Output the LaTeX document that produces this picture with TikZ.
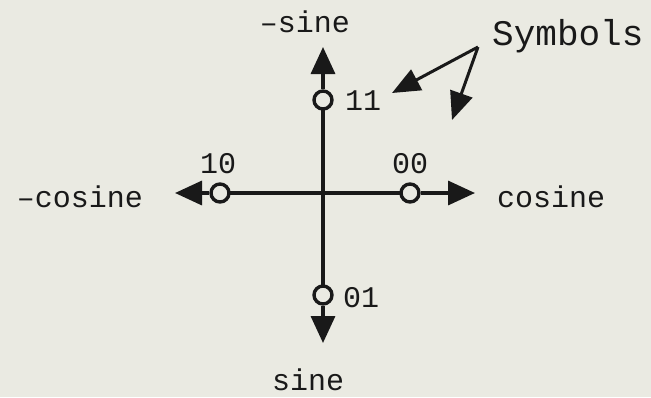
\documentclass[tikz,border=0pt]{standalone}
\usepackage{fontspec}
\setmonofont{Liberation Mono}
\usetikzlibrary{arrows.meta,positioning}
\definecolor{paper}{RGB}{234,234,226}
\definecolor{ink}{RGB}{25,25,25}

\begin{document}
\begin{tikzpicture}[
x=1pt, y=-1pt,
lbl/.style={font=\ttfamily\fontsize{30}{36}\selectfont, text=ink, inner sep=0pt},
sym/.style={circle, draw=ink, line width=3.4pt, fill=paper, minimum size=18pt, inner sep=0pt},
axis/.style={draw=ink, line width=3.4pt},
arr/.style={axis, -{Triangle[length=27pt,width=24pt]}},
parr/.style={draw=ink, line width=3pt, -{Triangle[length=28pt,width=23pt]}}
]

% Page
\fill[paper] (0,0) rectangle (651,397);
\useasboundingbox (0,0) rectangle (651,397);

% Arrow ends
\coordinate (ntop) at (323,47);
\coordinate (nbot) at (323,343);
\coordinate (nleft) at (175,193);
\coordinate (nright) at (475,193);

% Axes
\path[axis] (323,100) -- (323,295);
\path[axis] (220,193) -- (410,193);

% Symbols
\node[sym] (s11) at (323,100) {};
\node[sym] (s01) at (323,295) {};
\node[sym] (s10) at (220,193) {};
\node[sym] (s00) at (410,193) {};

% Arrows
\draw[arr] (s11) -- (ntop);
\draw[arr] (s01) -- (nbot);
\draw[arr] (s10) -- (nleft);
\draw[arr] (s00) -- (nright);

% Symbol labels
\node[lbl, anchor=base west] (l11) at (345,110) {11};
\node[lbl, anchor=base west] (l01) at (343,307) {01};
\node[lbl, anchor=base west] (l10) at (200,173) {10};
\node[lbl, anchor=base west] (l00) at (392,173) {00};

% Axis labels
\node[lbl, anchor=base east] (msine) at (350,32) {–sine};
\node[lbl, anchor=base west] (sine) at (272,390) {sine};
\node[lbl, anchor=base east] (mcos) at (143,207) {–cosine};
\node[lbl, anchor=base west] (cos) at (497,207) {cosine};

% Pointer
\node[lbl, font=\ttfamily\fontsize{36}{42}\selectfont, anchor=base west] (symb) at (492,45) {Symbols};
\coordinate (apex) at (478,47);
\coordinate (tipa) at (392,93);
\coordinate (tipb) at (452,120);
\draw[parr] (apex) -- (tipa);
\draw[parr] (apex) -- (tipb);

\end{tikzpicture}
\end{document}
